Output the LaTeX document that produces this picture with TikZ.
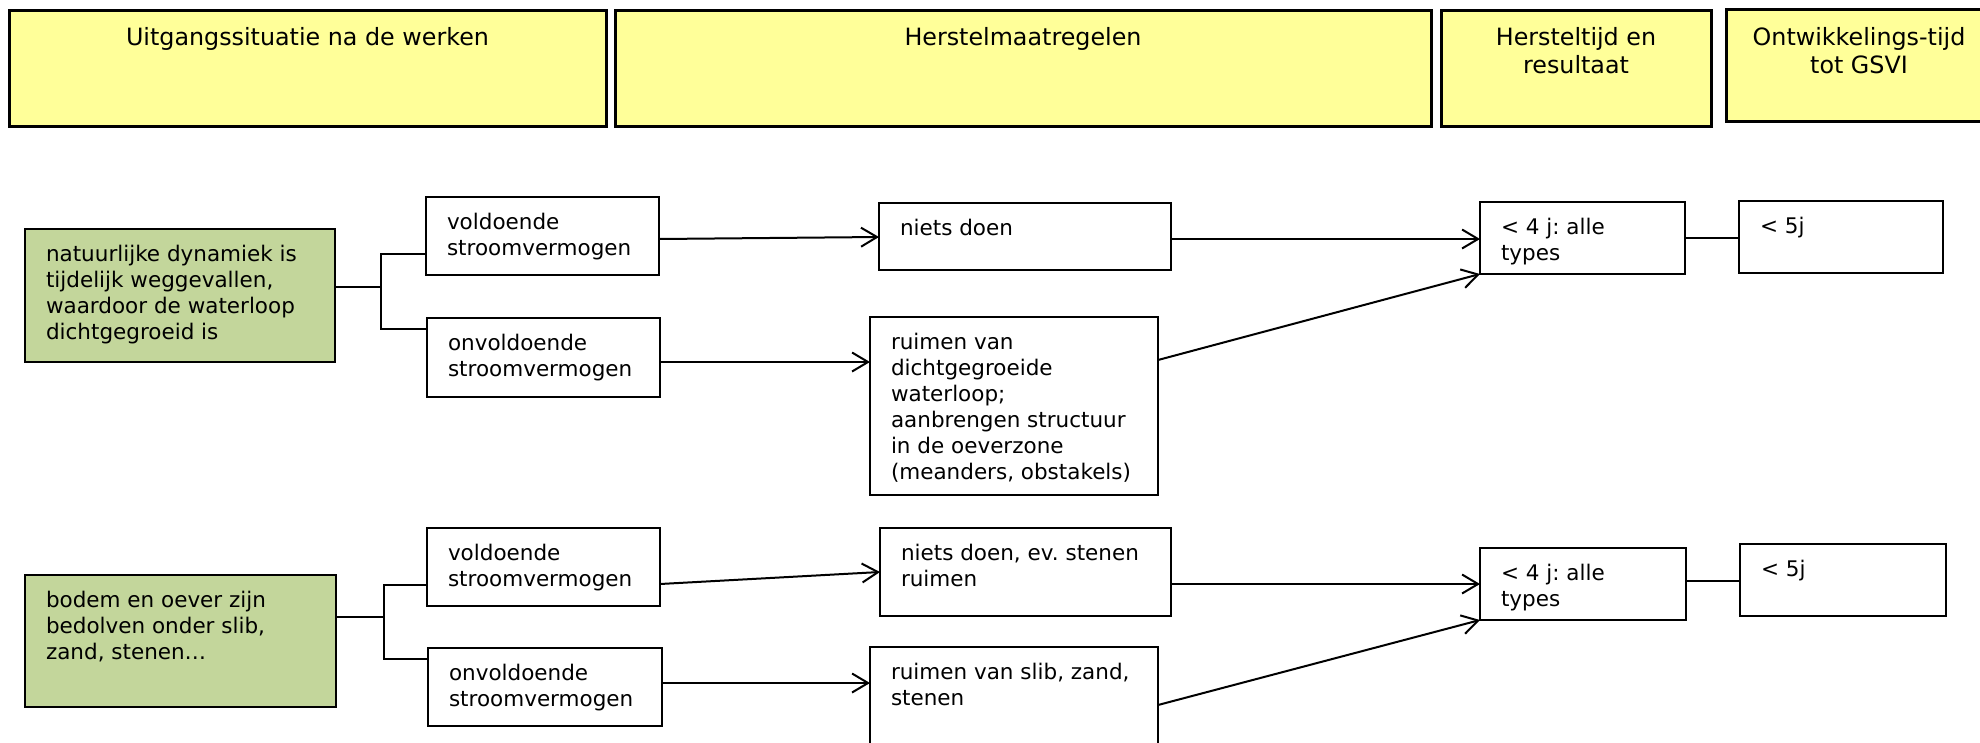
\documentclass[tikz,border=0pt]{standalone}
\usepackage{fontspec}
\setmainfont{DejaVu Sans}
\usetikzlibrary{arrows.meta}
\frenchspacing

\definecolor{hdrfill}{HTML}{FFFF99}
\definecolor{condfill}{HTML}{C3D69B}

% box text: top-left aligned, fixed box size (width, height, lines)
\newcommand{\celltext}[3]{\parbox[c][#2][t]{#1}{\fontsize{21.5pt}{26pt}\selectfont\rule{0pt}{32.5pt}\hspace*{21pt}\begin{tabular}[t]{@{}l@{}}#3\end{tabular}}}
% header text: centred, fixed box size (width, height, first baseline, text)
\newcommand{\headtext}[4]{\parbox[c][#2][t]{#1}{\centering\fontsize{23.8pt}{28pt}\selectfont\rule{0pt}{#3}#4\par}}

\tikzset{
  hdrbox/.style={draw, line width=3pt, fill=hdrfill, inner sep=0pt, outer sep=0pt, anchor=north west},
  condbox/.style={draw, line width=2pt, fill=condfill, inner sep=0pt, outer sep=0pt, anchor=north west},
  stepbox/.style={draw, line width=2pt, fill=white, inner sep=0pt, outer sep=0pt, anchor=north west},
  link/.style={line width=2pt},
  flow/.style={line width=2pt, -{Straight Barb[length=16pt,width=19pt]}}
}

\begin{document}
\begin{tikzpicture}[x=1pt, y=-1pt]
\useasboundingbox (0,0) rectangle (1980,742);
\clip (0,0) rectangle (1980,742);
\fill[white] (0,0) rectangle (1980,742);

% column headers
\node[hdrbox] (h1) at (9,10)    {\headtext{597pt}{116pt}{35pt}{Uitgangssituatie na de werken}};
\node[hdrbox] (h2) at (615,10)  {\headtext{816pt}{116pt}{35pt}{Herstelmaatregelen}};
\node[hdrbox] (h3) at (1441,10) {\headtext{270pt}{116pt}{35pt}{Hersteltijd en\\resultaat}};
\node[hdrbox] (h4) at (1726,9)  {\headtext{266pt}{112pt}{36pt}{Ontwikkelings-tijd\\tot GSVI}};

% first case
\node[condbox] (g1) at (25,229)  {\celltext{310pt}{133pt}{natuurlijke dynamiek is\\tijdelijk weggevallen,\\waardoor de waterloop\\dichtgegroeid is}};
\node[stepbox] (v1) at (426,197) {\celltext{233pt}{78pt}{voldoende\\stroomvermogen}};
\node[stepbox] (o1) at (427,318) {\celltext{233pt}{79pt}{onvoldoende\\stroomvermogen}};
\node[stepbox] (n1) at (879,203) {\celltext{292pt}{67pt}{niets doen}};
\node[stepbox] (r1) at (870,317) {\celltext{288pt}{178pt}{ruimen van\\dichtgegroeide\\waterloop;\\aanbrengen structuur\\in de oeverzone\\(meanders, obstakels)}};
\node[stepbox] (f1) at (1480,202) {\celltext{205pt}{72pt}{< 4 j: alle\\types}};
\node[stepbox] (d1) at (1739,201) {\celltext{204pt}{72pt}{< 5j}};

% second case
\node[condbox] (g2) at (25,575)  {\celltext{311pt}{132pt}{bodem en oever zijn\\bedolven onder slib,\\zand, stenen…}};
\node[stepbox] (v2) at (427,528) {\celltext{233pt}{78pt}{voldoende\\stroomvermogen}};
\node[stepbox] (o2) at (428,648) {\celltext{234pt}{78pt}{onvoldoende\\stroomvermogen}};
\node[stepbox] (n2) at (880,528) {\celltext{291pt}{88pt}{niets doen, ev. stenen\\ruimen}};
\node[stepbox] (r2) at (870,647) {\celltext{288pt}{110pt}{ruimen van slib, zand,\\stenen}};
\node[stepbox] (f2) at (1480,548) {\celltext{206pt}{72pt}{< 4 j: alle\\types}};
\node[stepbox] (d2) at (1740,544) {\celltext{206pt}{72pt}{< 5j}};

% branching from the conditions
\coordinate (j1) at (381,287);
\draw[link] (g1.east |- j1) -- (j1);
\draw[link] (v1.west |- 0,254) -| (j1) |- (o1.west |- 0,329);
\coordinate (j2) at (384,617);
\draw[link] (g2.east |- j2) -- (j2);
\draw[link] (v2.west |- 0,585) -| (j2) |- (o2.west |- 0,659);

% flows, first case
\draw[flow] (v1.east |- 0,239) -- (n1.west |- 0,237);
\draw[flow] (o1.east |- 0,362) -- (r1.west |- 0,362);
\draw[flow] (n1.east |- 0,239) -- (f1.west |- 0,239);
\draw[flow] (r1.east |- 0,360) -- (f1.south west);
\draw[link] (f1.east |- 0,238) -- (d1.west |- 0,238);

% flows, second case
\draw[flow] (v2.east |- 0,584) -- (n2.west |- 0,572);
\draw[flow] (o2.east |- 0,683) -- (r2.west |- 0,683);
\draw[flow] (n2.east |- 0,584) -- (f2.west |- 0,584);
\draw[flow] (r2.east |- 0,705) -- (f2.south west);
\draw[link] (f2.east |- 0,581) -- (d2.west |- 0,581);
\end{tikzpicture}
\end{document}
